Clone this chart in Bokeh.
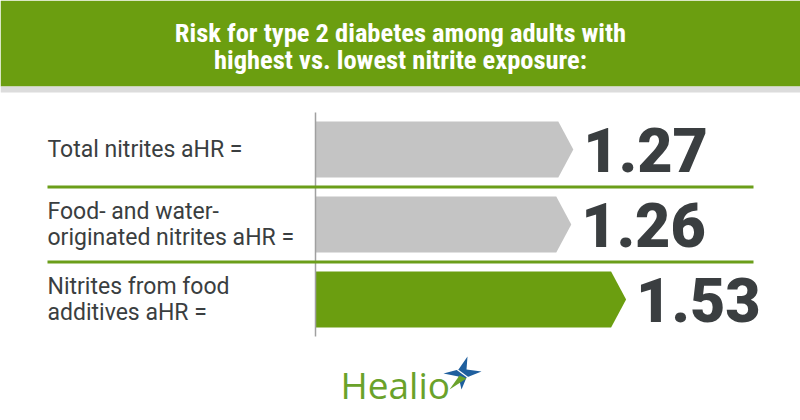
from bokeh.plotting import figure
from bokeh.models import Range1d
from bokeh.core.properties import value
from bokeh.embed import file_html
from bokeh.resources import INLINE

# ---- data ----
title_lines = ["Risk for type 2 diabetes among adults with",
               "highest vs. lowest nitrite exposure:"]
categories = ["Total nitrites aHR =",
              "Food- and water-\noriginated nitrites aHR =",
              "Nitrites from food\nadditives aHR ="]
values = [1.27, 1.26, 1.53]
value_labels = ["1.27", "1.26", "1.53"]
bar_colors = ["#c4c4c4", "#c4c4c4", "#6b9e10"]

# ---- layout helpers (pixel -> data) ----
W, H = 800, 420
PX_PER_UNIT = 203.0
X0_PX = 315.0
ROW0_PX = 149.0
ROW_PX = 75.0

def X(px):
    return (px - X0_PX) / PX_PER_UNIT

def Y(py):
    return (py - ROW0_PX) / ROW_PX

p = figure(width=W, height=H, output_backend="svg", toolbar_location=None,
           x_range=Range1d(X(0), X(W)), y_range=Range1d(Y(H), Y(0)),
           min_border=0, x_axis_type=None, y_axis_type=None)
p.outline_line_color = None
p.grid.visible = False
p.background_fill_color = "white"
p.border_fill_color = "white"

GREEN = "#6b9e10"
DARK = "#3a3e40"

# header band
p.quad(left=X(0), right=X(W), top=Y(0), bottom=Y(86), fill_color=GREEN, line_color=None)
p.quad(left=X(0), right=X(W), top=Y(86), bottom=Y(92), fill_color="#dcdcdc", line_color=None)

title_font = value("Roboto Condensed, DejaVu Sans Condensed, Liberation Sans Narrow, Roboto, sans-serif")
for i, line in enumerate(title_lines):
    p.text(x=[X(400)], y=[Y(32 + 27 * i)], text=[line], text_align="center",
           text_baseline="middle", text_color="white", text_font=title_font,
           text_font_size="26.5px", text_font_style="bold")

# bars as arrow polygons
half = 28.0 / ROW_PX
tip = 15.0 / PX_PER_UNIT
xs, ys = [], []
for i, v in enumerate(values):
    xs.append([0, v - tip, v, v - tip, 0])
    ys.append([i - half, i - half, i, i + half, i + half])
p.patches(xs, ys, fill_color=bar_colors, line_color=None)

# vertical axis line
p.segment(x0=[0], y0=[Y(112)], x1=[0], y1=[Y(336)], line_color="#a0a0a0", line_width=1.5)

# separators between rows
seps = [i + 0.5 for i in range(len(values) - 1)]
p.segment(x0=[X(47)] * len(seps), y0=seps, x1=[X(753)] * len(seps), y1=seps,
          line_color="#6b9e1a", line_width=3)

# value labels
num_size = 61
p.text(x=[v + 10.0 / PX_PER_UNIT for v in values],
       y=[i for i in range(len(values))],
       text=value_labels, text_align="left", text_baseline="middle",
       text_color=DARK, text_font=value("Roboto Black, Roboto, sans-serif"),
       text_font_size=f"{num_size}px", text_font_style="bold")

# category labels
lab_size = 23
lx, ly, lt = [], [], []
for i, lab in enumerate(categories):
    lines = lab.split("\n")
    n = len(lines)
    for k, ln in enumerate(lines):
        lx.append(X(47))
        ly.append(i + ((k - (n - 1) / 2) * 26) / ROW_PX)
        lt.append(ln)
p.text(x=lx, y=ly, text=lt, text_align="left", text_baseline="middle",
       text_color=DARK, text_font=value("Roboto"), text_font_size=f"{lab_size}px")

# Healio logo
p.text(x=[X(340)], y=[Y(384)], text=["Healio"], text_align="left",
       text_baseline="middle", text_color="#6aa22a", text_font=value("Open Sans"),
       text_font_size="37px")
cx, cy = 462, 373
star_px = [(cx + 5, cy - 17), (cx + 4, cy - 4), (cx + 19, cy - 2), (cx + 4, cy + 4),
           (cx - 1, cy + 16), (cx - 4, cy + 3), (cx - 19, cy + 0), (cx - 4, cy - 4)]
p.patch([X(a) for a, b in star_px], [Y(b) for a, b in star_px],
        fill_color="#1f5f9e", line_color=None)
grn_px = [(cx - 3, cy + 2), (cx + 4, cy + 5), (cx - 13, cy + 16)]
p.patch([X(a) for a, b in grn_px], [Y(b) for a, b in grn_px],
        fill_color="#6aa22a", line_color=None)
p.segment(x0=[X(cx - 15)], y0=[Y(cy - 11)], x1=[X(cx + 15)], y1=[Y(cy + 11)],
          line_color="white", line_width=1.2)

open("out.html", "w").write(file_html(p, INLINE))
